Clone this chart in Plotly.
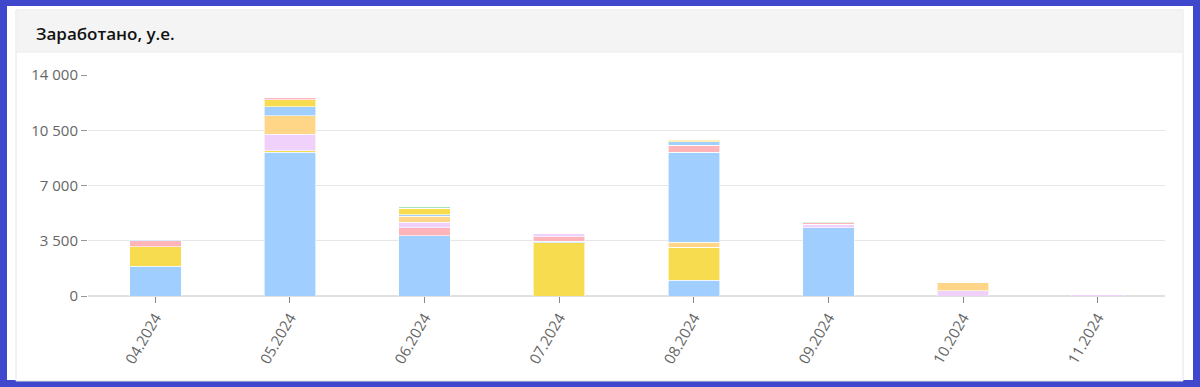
import plotly.graph_objects as go

months = ['04.2024', '05.2024', '06.2024', '07.2024', '08.2024', '09.2024', '10.2024', '11.2024']

# stacked series, bottom to top
s_blue_1     = [1900, 9100, 3830, 0,    1010, 4330, 0,   0]
s_yellow_1   = [1235, 100,  0,    3380, 2090, 0,    0,   0]
s_pink_1     = [367,  0,    494,  0,    0,    0,    0,   0]
s_lavender_1 = [0,    1040, 342,  0,    0,    230,  340, 70]
s_orange_1   = [0,    1170, 399,  0,    298,  0,    530, 0]
s_blue_2     = [108,  564,  80,   100,  5720, 0,    0,   0]
s_yellow_2   = [0,    450,  424,  0,    0,    0,    0,   0]
s_pink_2     = [0,    139,  0,    270,  443,  90,   0,   0]
s_lavender_2 = [0,    0,    0,    190,  0,    0,    0,   0]
s_orange_2   = [0,    0,    0,    40,   0,    0,    0,   0]
s_green_1    = [0,    0,    70,   0,    0,    50,   0,   0]
s_blue_3     = [0,    0,    0,    0,    209,  0,    0,   0]
s_yellow_3   = [0,    0,    0,    0,    89,   0,    0,   0]

series = [
    (s_blue_1, '#a0cfff'), (s_yellow_1, '#f7dc50'), (s_pink_1, '#ffb4ba'),
    (s_lavender_1, '#f0d1fb'), (s_orange_1, '#ffd588'), (s_blue_2, '#a0cfff'),
    (s_yellow_2, '#f7dc50'), (s_pink_2, '#ffb4ba'), (s_lavender_2, '#f0d1fb'),
    (s_orange_2, '#ffd588'), (s_green_1, '#a6e3bd'), (s_blue_3, '#a0cfff'),
    (s_yellow_3, '#f7dc50'),
]

y_ticks = [0, 3500, 7000, 10500, 14000]
y_tick_text = ['0', '3 500', '7 000', '10 500', '14 000']

fig = go.Figure()
for vals, col in series:
    fig.add_trace(go.Bar(x=months, y=vals, marker=dict(color=col, line=dict(color='rgba(255,255,255,0.6)', width=1)),
                         hoverinfo='skip', showlegend=False))

W, H = 1200, 387
L, R, T, B = 88, 1165, 75, 296

def px(x):
    return (x - L) / (R - L)

def py(y):
    return (B - y) / (B - T)

shapes = [
    dict(type='rect', xref='paper', yref='paper', x0=px(7), x1=px(1193), y0=py(380), y1=py(6),
         fillcolor='white', line=dict(width=0), layer='below'),
    dict(type='rect', xref='paper', yref='paper', x0=px(16), x1=px(1183), y0=py(381), y1=py(10),
         fillcolor='white', line=dict(color='#e4e4e4', width=1), layer='below'),
    dict(type='rect', xref='paper', yref='paper', x0=px(16.5), x1=px(1182.5), y0=py(52), y1=py(10.5),
         fillcolor='#f4f4f4', line=dict(width=0), layer='below'),
    dict(type='line', xref='paper', yref='paper', x0=px(16.5), x1=px(1182.5), y0=py(52), y1=py(52),
         line=dict(color='#ebebeb', width=1), layer='below'),
]

fig.update_layout(
    width=W, height=H,
    barmode='stack', bargap=0.618,
    margin=dict(l=L, r=W - R, t=T, b=H - B, pad=0),
    paper_bgcolor='#3f47cc', plot_bgcolor='rgba(0,0,0,0)',
    font=dict(family='Open Sans', color='#666666', size=15),
    shapes=shapes,
    annotations=[dict(text='Заработано, у.е.', xref='paper', yref='paper', x=px(34), y=py(33),
                      xanchor='left', yanchor='middle', showarrow=False,
                      font=dict(family='Open Sans', size=17, color='#111111', weight=600))],
    xaxis=dict(type='category', showgrid=False, ticks='outside', ticklen=6, tickcolor='#888888',
               tickangle=-60, showline=False, tickfont=dict(size=15, color='#666666')),
    yaxis=dict(range=[0, 14000], tickvals=y_ticks, ticktext=y_tick_text, showgrid=True,
               gridcolor='#e6e6e6', gridwidth=1, zeroline=True, zerolinecolor='#e0e0e0',
               ticks='outside', ticklen=6, tickcolor='#999999', showline=False,
               tickfont=dict(size=15, color='#666666')),
)

fig.write_html('out.html', config={'displayModeBar': False, 'staticPlot': True},
               post_script="document.body.style.margin='0';document.body.style.overflow='hidden';")
